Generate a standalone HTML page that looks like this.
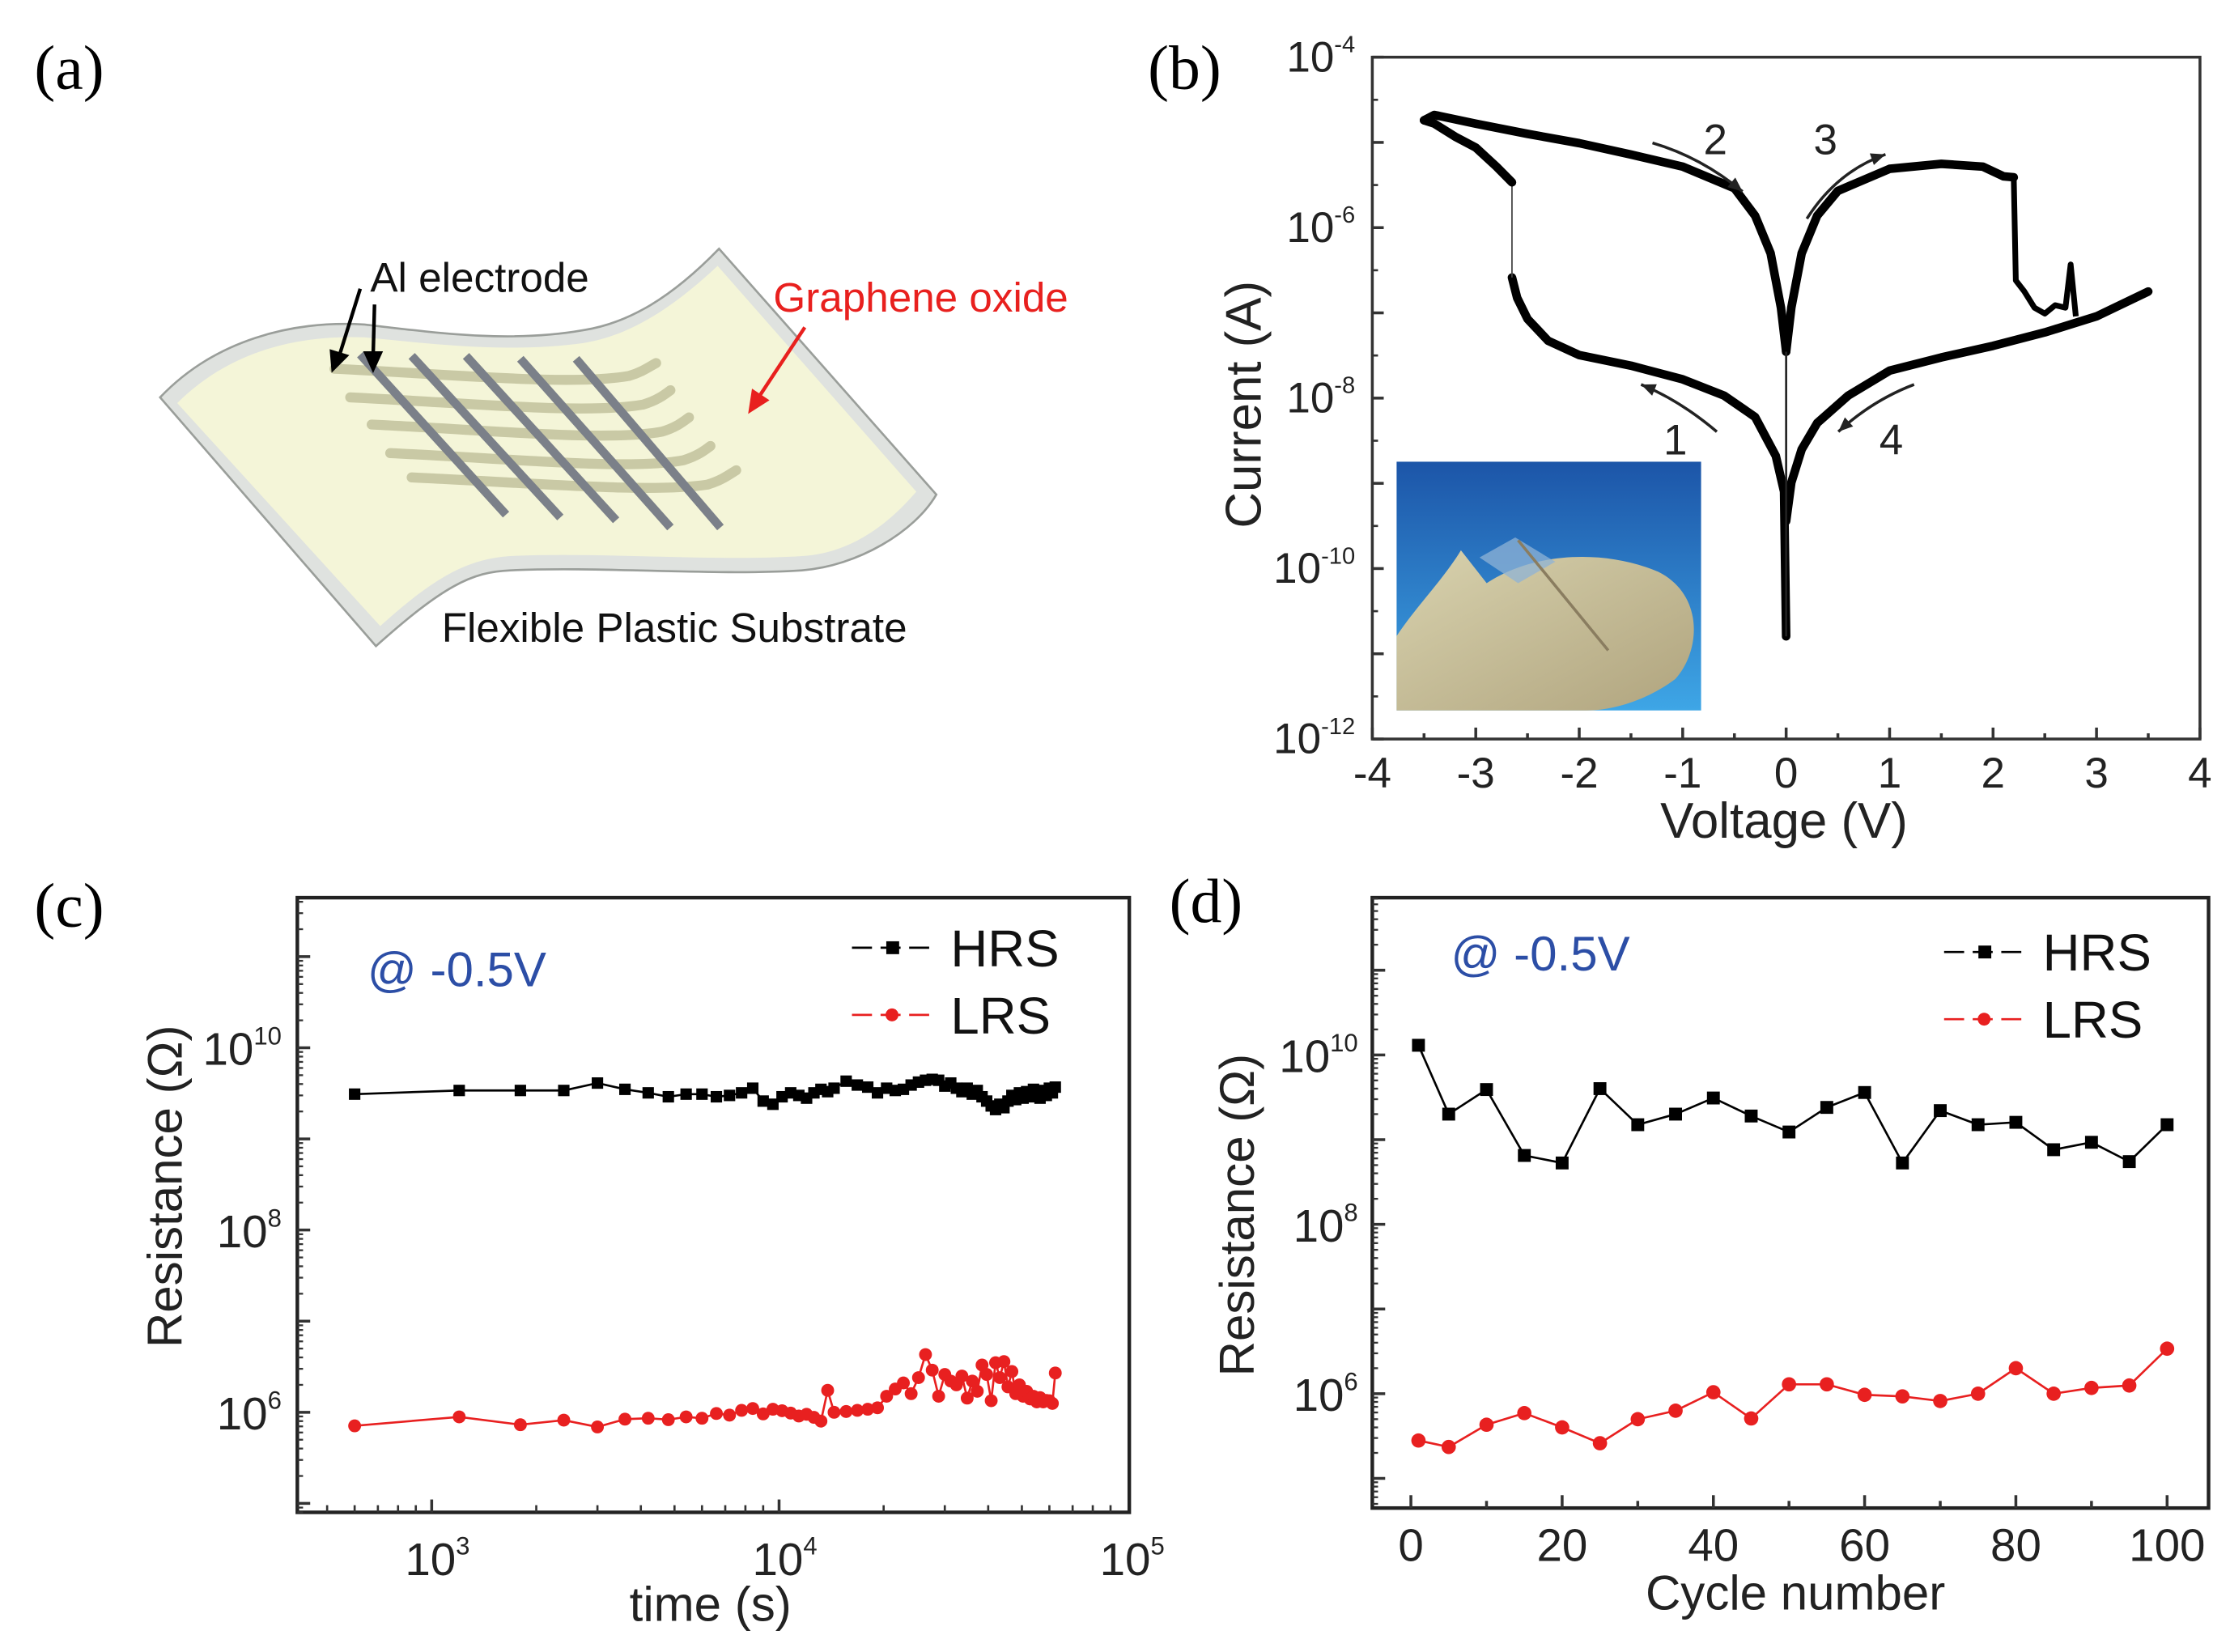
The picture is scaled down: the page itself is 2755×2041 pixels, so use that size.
<!DOCTYPE html>
<html><head><meta charset="utf-8"><style>
html,body{margin:0;padding:0;background:#fff;}
svg{display:block;}
text{font-family:"Liberation Sans",Arial,sans-serif;}
</style></head><body>
<svg id="fig" width="2755" height="2041" viewBox="0 0 1560 1155.7" xmlns="http://www.w3.org/2000/svg">
<defs>
<linearGradient id="insetGrad" x1="0" y1="0" x2="0" y2="1"><stop offset="0" stop-color="#1c55a8"/><stop offset="1" stop-color="#3ea6e6"/></linearGradient>
<linearGradient id="fingerGrad" x1="0" y1="0" x2="1" y2="1"><stop offset="0" stop-color="#d8d2ae"/><stop offset="1" stop-color="#b0a47e"/></linearGradient>
</defs>
<!-- panel labels -->
<text x="24" y="62" style="font-family:'Liberation Serif',serif" font-size="44">(a)</text>
<text x="803" y="62" style="font-family:'Liberation Serif',serif" font-size="44">(b)</text>
<text x="24" y="648" style="font-family:'Liberation Serif',serif" font-size="44">(c)</text>
<text x="818" y="645" style="font-family:'Liberation Serif',serif" font-size="44">(d)</text>

<!-- panel a schematic -->
<g>
<path d="M112,278 C150,238 204,224 255,227 C306,233 357,240 408,231 C440,226 470,208 503,174 L655,346 C640,372 600,396 561,399 C500,403 420,396 357,399 C330,400 310,410 263,452 Z" fill="#dfe2df" stroke="#9a9e9a" stroke-width="1.5"/>
<path d="M124,282 C158,248 204,234 255,236 C306,241 357,247 408,240 C440,235 470,216 502,186 L641,344 C622,366 596,387 561,389 C500,393 420,386 357,389 C330,391 308,400 266,438 Z" fill="#f4f5d8"/>
<g stroke="#c9c9a5" stroke-width="7" fill="none" stroke-linecap="round">
<path d="M234,258 C320,262 400,270 440,263 C450,260 455,256 459,254"/>
<path d="M245,278 C330,282 410,290 450,283 C460,280 465,276 469,273"/>
<path d="M260,297 C345,301 425,309 463,302 C473,299 478,295 482,292"/>
<path d="M273,317 C360,321 440,329 478,322 C488,319 493,315 497,312"/>
<path d="M288,334 C375,338 455,345 495,339 C505,336 510,332 515,329"/>
</g>
<g stroke="#7b8089" stroke-width="6" stroke-linecap="butt">
<line x1="252" y1="248" x2="354" y2="360"/>
<line x1="288" y1="249" x2="392" y2="362"/>
<line x1="326" y1="249" x2="431" y2="364"/>
<line x1="364" y1="251" x2="469" y2="369"/>
<line x1="403" y1="251" x2="504" y2="369"/>
</g>
<g stroke="#000" stroke-width="2.5" fill="#000">
<line x1="252" y1="202" x2="237" y2="250"/><polygon points="233,258 232,246 242,249"/>
<line x1="262" y1="213" x2="261" y2="250"/><polygon points="261,258 256,247 266,247"/>
</g>
<text x="259" y="204" font-size="29" fill="#111">Al electrode</text>
<text x="541" y="218" font-size="29" fill="#e8201e">Graphene oxide</text>
<g stroke="#e8201e" stroke-width="2.5" fill="#e8201e">
<line x1="563" y1="229" x2="530" y2="279"/><polygon points="525,287 527,274 536,280"/>
</g>
<text x="309" y="449" font-size="29" fill="#111">Flexible Plastic Substrate</text>
</g>

<!-- inset photo in panel b -->
<g>
<rect x="977" y="323" width="213" height="174" fill="url(#insetGrad)"/>
<path d="M977,497 L977,445 C990,425 1010,405 1022,385 L1040,408 C1075,385 1125,385 1160,400 C1192,416 1190,455 1172,475 C1152,490 1128,497 1110,497 Z" fill="url(#fingerGrad)"/>
<path d="M1035,390 L1060,376 L1088,393 L1062,408 Z" fill="#8fb3d6" opacity="0.75"/>
<line x1="1062" y1="378" x2="1125" y2="455" stroke="#8a7d60" stroke-width="2"/>
</g>

<g id="plots"></g>
</svg>
<script>
// ---------- Panel (b) data: I-V sweeps ----------
const sweep1V = [0,-0.02,-0.1,-0.3,-0.6,-1.0,-1.5,-2.0,-2.3,-2.5,-2.6,-2.65];
const sweep1I = [1.6e-11,8e-10,2.1e-9,6e-9,1.07e-8,1.66e-8,2.4e-8,3.2e-8,4.7e-8,8.5e-8,1.5e-7,2.6e-7];
const setV = [-2.65,-2.8,-3.0,-3.2,-3.4,-3.5];
const setI = [3.4e-6,5.2e-6,8.7e-6,1.17e-5,1.66e-5,1.82e-5];
const sweep2V = [-3.5,-3.4,-3.0,-2.5,-2.0,-1.5,-1.0,-0.5,-0.3,-0.15,-0.05,0];
const sweep2I = [1.82e-5,2.1e-5,1.66e-5,1.26e-5,9.8e-6,7.2e-6,5.2e-6,2.9e-6,1.38e-6,5e-7,1.15e-7,3.5e-8];
const sweep3V = [0,0.05,0.15,0.3,0.5,1.0,1.5,1.9,2.1,2.2];
const sweep3I = [3.5e-8,1.15e-7,5e-7,1.38e-6,2.7e-6,4.9e-6,5.6e-6,5.2e-6,4.0e-6,3.9e-6];
const resetV = [2.2,2.22,2.3,2.4,2.5,2.6,2.7,2.75,2.8];
const resetI = [3.9e-6,2.4e-7,1.8e-7,1.15e-7,9.8e-8,1.23e-7,1.15e-7,3.7e-7,9.1e-8];
const sweep4V = [3.5,3.0,2.5,2.0,1.5,1.0,0.6,0.3,0.15,0.05,0];
const sweep4I = [1.78e-7,9.1e-8,5.9e-8,4.1e-8,3.0e-8,2.1e-8,1.07e-8,5.1e-9,2.5e-9,1.02e-9,3.6e-10];
const bXTicks = [-4,-3,-2,-1,0,1,2,3,4];
const bYExps = [-4,-6,-8,-10,-12];

// ---------- Panel (c) data: retention ----------
const retTime = [600,1200,1800,2400,3000,3600,4200,4800,5400,6000,6600,7200,7800,8400,9000,9600,10200,10800,11400,12000,12600,13200,13800,14400,
15600,16800,18000,19200,20400,21600,22800,24000,25200,26400,27600,28800,30000,31200,32400,33600,34800,36000,37200,38400,39600,40800,
42000,43200,44400,45600,46800,48000,49200,50400,51600,52800,54000,55200,56400,57600,58800,60000,61200,62400];
const retHRS = [3.1e9,3.4e9,3.4e9,3.4e9,4.1e9,3.5e9,3.2e9,2.9e9,3.1e9,3.1e9,2.9e9,3.0e9,3.2e9,3.6e9,2.6e9,2.4e9,2.9e9,3.2e9,3.0e9,2.8e9,3.2e9,3.5e9,3.3e9,3.6e9,
4.3e9,3.9e9,3.7e9,3.2e9,3.6e9,3.4e9,3.5e9,3.9e9,4.2e9,4.4e9,4.5e9,4.4e9,3.8e9,4.1e9,3.6e9,3.3e9,3.6e9,3.1e9,3.4e9,2.9e9,2.6e9,2.3e9,
2.1e9,2.4e9,2.2e9,2.6e9,3.0e9,2.7e9,3.2e9,2.8e9,3.3e9,2.9e9,3.5e9,3.1e9,2.8e9,3.4e9,3.0e9,3.6e9,3.2e9,3.7e9];
const retLRS = [7.1e5,8.9e5,7.3e5,8.2e5,6.9e5,8.4e5,8.6e5,8.3e5,8.9e5,8.6e5,9.7e5,9.3e5,1.05e6,1.1e6,9.6e5,1.08e6,1.04e6,9.8e5,9.1e5,9.5e5,8.8e5,8.0e5,1.74e6,1.0e6,
1.02e6,1.05e6,1.08e6,1.12e6,1.5e6,1.8e6,2.1e6,1.6e6,2.4e6,4.3e6,2.9e6,1.5e6,2.6e6,2.2e6,2.0e6,2.5e6,1.43e6,2.2e6,1.7e6,3.3e6,2.6e6,1.34e6,
3.5e6,2.4e6,3.6e6,1.9e6,2.8e6,1.6e6,2.0e6,1.5e6,1.7e6,1.4e6,1.5e6,1.3e6,1.45e6,1.3e6,1.35e6,1.34e6,1.25e6,2.7e6];
const cXExps = [3,4,5];
const cYExps = [6,8,10];

// ---------- Panel (d) data: endurance ----------
const cycles = [1,5,10,15,20,25,30,35,40,45,50,55,60,65,70,75,80,85,90,95,100];
const cycHRS = [1.3e10,2.0e9,3.9e9,6.5e8,5.3e8,4.0e9,1.5e9,2.0e9,3.1e9,1.9e9,1.23e9,2.4e9,3.6e9,5.3e8,2.2e9,1.5e9,1.6e9,7.6e8,9.3e8,5.5e8,1.5e9];
const cycLRS = [2.8e5,2.35e5,4.3e5,5.9e5,4.0e5,2.6e5,5.0e5,6.3e5,1.04e6,5.1e5,1.29e6,1.29e6,9.7e5,9.3e5,8.2e5,1.0e6,2.0e6,1.0e6,1.17e6,1.25e6,3.4e6];
const dXTicks = [0,20,40,60,80,100];
const dYExps = [6,8,10];

const NS = 'http://www.w3.org/2000/svg';
const root = document.getElementById('plots');
function mk(parent, tag, attrs){const e=document.createElementNS(NS,tag);for(const k in attrs)e.setAttribute(k,attrs[k]);parent.appendChild(e);return e;}
function powLabel(parent, x, y, exp, anchor, fs){
  const t = mk(parent,'text',{x:x,y:y,'font-size':fs,'text-anchor':anchor,fill:'#222'});
  t.textContent='10';
  const s = mk(t,'tspan',{'font-size':fs*0.55,dy:-fs*0.45});
  s.textContent=String(exp);
  return t;
}
function polyline(parent, xs, ys, fx, fy, attrs){
  const pts=[];const n=Math.min(xs.length,ys.length);
  for(let i=0;i<n;i++)pts.push(fx(xs[i]).toFixed(2)+','+fy(ys[i]).toFixed(2));
  const p=mk(parent,'polyline',Object.assign({points:pts.join(' '),fill:'none'},attrs));
  return p;
}

// ================= Panel (b) =================
(function(){
  const L=960,R=1539,T=40,B=517;
  const xb=v=>L+(v+4)/8*(R-L);
  const yb=i=>T+(-4-Math.log10(i))/8*(B-T);
  const g=mk(root,'g',{});
  
  
  const frame=mk(g,'rect',{x:L,y:T,width:R-L,height:B-T,fill:'none',stroke:'#333','stroke-width':2});
  
  
  for(let e=-12;e<=-4;e++){
    const y=yb(Math.pow(10,e));
    const tk=mk(g,'line',{x1:L,x2:L+8,y1:y,y2:y,stroke:'#333','stroke-width':2});
    
    
    if(e<-4){const ym=yb(Math.pow(10,e+0.5));const mt=mk(g,'line',{x1:L,x2:L+4,y1:ym,y2:ym,stroke:'#333','stroke-width':1.5});
      
      }
  }
  bYExps.forEach(e=>{
    const t=powLabel(g,948,yb(Math.pow(10,e))+10,e,'end',30);
    
    
  });
  for(let v=-4;v<=4;v+=0.5){
    const x=xb(v);const major=Number.isInteger(v);
    const tk=mk(g,'line',{x1:x,x2:x,y1:B,y2:B-(major?8:4),stroke:'#333','stroke-width':2});
    
    
  }
  bXTicks.forEach(v=>{
    const t=mk(g,'text',{x:xb(v),y:551,'font-size':30,'text-anchor':'middle',fill:'#222'});
    t.textContent=(v<0?'-':'')+Math.abs(v);
    
    
  });
  const xt=mk(g,'text',{x:1248,y:586,'font-size':35,'text-anchor':'middle',fill:'#222'});
  xt.textContent='Voltage (V)';
  
  
  const yt=mk(g,'text',{x:0,y:0,'font-size':35,'text-anchor':'middle',fill:'#222',transform:'translate(882,283) rotate(-90)'});
  yt.textContent='Current (A)';
  
  
  const st={stroke:'#000','stroke-width':6,'stroke-linejoin':'round','stroke-linecap':'round'};
  const s1=polyline(g,sweep1V,sweep1I,xb,yb,st);
  
  
  const sv=mk(g,'line',{x1:xb(-2.65),x2:xb(-2.65),y1:yb(2.6e-7),y2:yb(3.4e-6),stroke:'#444','stroke-width':1});
  
  
  const s1b=polyline(g,setV,setI,xb,yb,st);
  
  
  const s2=polyline(g,sweep2V,sweep2I,xb,yb,st);
  
  
  const s3=polyline(g,sweep3V,sweep3I,xb,yb,st);
  
  
  const s3b=polyline(g,resetV,resetI,xb,yb,{stroke:'#000','stroke-width':4,'stroke-linejoin':'round'});
  
  
  const s4=polyline(g,sweep4V,sweep4I,xb,yb,st);
  
  
  const sp=mk(g,'line',{x1:xb(0),x2:xb(0),y1:yb(3.5e-8),y2:yb(1.6e-11),stroke:'#222','stroke-width':1.5});
  
  
  // direction arrows: [x1,y1,ctrlx,ctrly,x2,y2,label,lx,ly]
  const arrows=[[1156,100,1190,110,1219,134,'2',1200,108],[1264,153,1285,120,1319,108,'3',1277,108],[1201,302,1175,280,1148,269,'1',1172,318],[1339,269,1310,280,1286,302,'4',1323,318]];
  arrows.forEach(a=>{
    const ln=mk(g,'path',{d:'M'+a[0]+','+a[1]+' Q'+a[2]+','+a[3]+' '+a[4]+','+a[5],fill:'none',stroke:'#222','stroke-width':2});
    
    
    const ang=Math.atan2(a[5]-a[3],a[4]-a[2]);
    const p1=[a[4]-11*Math.cos(ang-0.4),a[5]-11*Math.sin(ang-0.4)],p2=[a[4]-11*Math.cos(ang+0.4),a[5]-11*Math.sin(ang+0.4)];
    const hd=mk(g,'polygon',{points:a[4]+','+a[5]+' '+p1.join(',')+' '+p2.join(','),fill:'#222'});
    
    
    const tx=mk(g,'text',{x:a[7],y:a[8],'font-size':30,'text-anchor':'middle',fill:'#222'});
    tx.textContent=a[6];
    
    
  });
})();

// legend/annotation helper
function legendAndNote(g, noteX, noteY, lx, hy, ly){
  const n=mk(g,'text',{x:noteX,y:noteY,'font-size':34,fill:'#2c4ea6'});
  n.textContent='@ -0.5V';
  
  
  const h1=mk(g,'line',{x1:lx,x2:lx+56,y1:hy,y2:hy,stroke:'#000','stroke-width':1.5,'stroke-dasharray':'14,6'});
  
  
  const h2=mk(g,'rect',{x:lx+24,y:hy-4.5,width:9,height:9,fill:'#000'});
  
  
  const h3=mk(g,'text',{x:lx+69,y:hy+13,'font-size':36,fill:'#111'});
  h3.textContent='HRS';
  
  
  const l1=mk(g,'line',{x1:lx,x2:lx+56,y1:ly,y2:ly,stroke:'#e82020','stroke-width':1.5,'stroke-dasharray':'14,6'});
  
  
  const l2=mk(g,'circle',{cx:lx+28,cy:ly,r:4.5,fill:'#e82020'});
  
  
  const l3=mk(g,'text',{x:lx+69,y:ly+13,'font-size':36,fill:'#111'});
  l3.textContent='LRS';
  
  
}
function resistanceSeries(g, xs, hrs, lrs, fx, fy, sq, rad){
  const hl=polyline(g,xs,hrs,fx,fy,{stroke:'#000','stroke-width':1.5});
  
  
  const ll=polyline(g,xs,lrs,fx,fy,{stroke:'#e82020','stroke-width':1.5});
  
  
  for(let i=0;i<Math.min(xs.length,hrs.length);i++){
    const m=mk(g,'rect',{x:fx(xs[i])-sq/2,y:fy(hrs[i])-sq/2,width:sq,height:sq,fill:'#000'});
    
    
  }
  for(let i=0;i<Math.min(xs.length,lrs.length);i++){
    const m=mk(g,'circle',{cx:fx(xs[i]),cy:fy(lrs[i]),r:rad,fill:'#e82020'});
    
    
  }
}
function logYAxis(g,L,e0,e1,fy,labels,labelX,prefix){
  for(let e=Math.floor(e0);e<=Math.ceil(e1);e++){
    for(let k=1;k<10;k++){
      const v=Math.log10(k)+e; if(v<e0||v>e1)continue;
      const y=fy(Math.pow(10,v));
      const t=mk(g,'line',{x1:L,x2:L+(k===1?9:4),y1:y,y2:y,stroke:'#333','stroke-width':k===1?2:1.3});
      
      
    }
  }
  labels.forEach(e=>{
    const t=powLabel(g,labelX,fy(Math.pow(10,e))+12,e,'end',32);
    
    
  });
}

// ================= Panel (c) =================
(function(){
  const L=208,R=790,T=628,B=1058;
  const xc=t=>302+(Math.log10(t)-3)*243;
  const yc=r=>733-(Math.log10(r)-10)*63.75;
  const g=mk(root,'g',{});
  
  
  const fr=mk(g,'rect',{x:L,y:T,width:R-L,height:B-T,fill:'none',stroke:'#222','stroke-width':2.5});
  
  
  logYAxis(g,L,10-(B-733)/63.75,10+(733-T)/63.75,yc,cYExps,197,'retention');
  for(let e=2;e<=4;e++)for(let k=1;k<10;k++){
    const v=Math.log10(k)+e;const x=xc(Math.pow(10,v)); if(x<L||x>R)continue;
    const t=mk(g,'line',{x1:x,x2:x,y1:B,y2:B-(k===1?9:5),stroke:'#333','stroke-width':k===1?2:1.5});
    
    
  }
  cXExps.forEach(e=>{
    const t=powLabel(g,xc(Math.pow(10,e))+4,1102,e,'middle',32);
    
    
  });
  const xt=mk(g,'text',{x:497,y:1134,'font-size':34,'text-anchor':'middle',fill:'#222'});
  xt.textContent='time (s)';
  
  
  const yt=mk(g,'text',{x:0,y:0,'font-size':34,'text-anchor':'middle',fill:'#222',transform:'translate(127,830) rotate(-90)'});
  yt.textContent='Resistance (Ω)';
  
  
  resistanceSeries(g,retTime,retHRS,retLRS,xc,yc,8,4.5);
  legendAndNote(g,257,690,596,663,710);
})();

// ================= Panel (d) =================
(function(){
  const L=960,R=1545,T=628,B=1055;
  const xd=n=>987+n*5.29;
  const yd=r=>738-(Math.log10(r)-10)*59.25;
  const g=mk(root,'g',{});
  
  
  const fr=mk(g,'rect',{x:L,y:T,width:R-L,height:B-T,fill:'none',stroke:'#222','stroke-width':2.5});
  
  
  logYAxis(g,L,10-(B-738)/59.25,10+(738-T)/59.25,yd,dYExps,950,'endurance');
  for(let n=0;n<=100;n+=10){
    const x=xd(n);const major=n%20===0;
    const t=mk(g,'line',{x1:x,x2:x,y1:B,y2:B-(major?9:5),stroke:'#333','stroke-width':2});
    
    
  }
  dXTicks.forEach(n=>{
    const t=mk(g,'text',{x:xd(n),y:1092,'font-size':32,'text-anchor':'middle',fill:'#222'});
    t.textContent=String(n);
    
    
  });
  const xt=mk(g,'text',{x:1256,y:1126,'font-size':34,'text-anchor':'middle',fill:'#222'});
  xt.textContent='Cycle number';
  
  
  const yt=mk(g,'text',{x:0,y:0,'font-size':34,'text-anchor':'middle',fill:'#222',transform:'translate(877,850) rotate(-90)'});
  yt.textContent='Resistance (Ω)';
  
  
  resistanceSeries(g,cycles,cycHRS,cycLRS,xd,yd,9,5);
  legendAndNote(g,1015,679,1360,666,713);
})();
</script>
</body></html>
